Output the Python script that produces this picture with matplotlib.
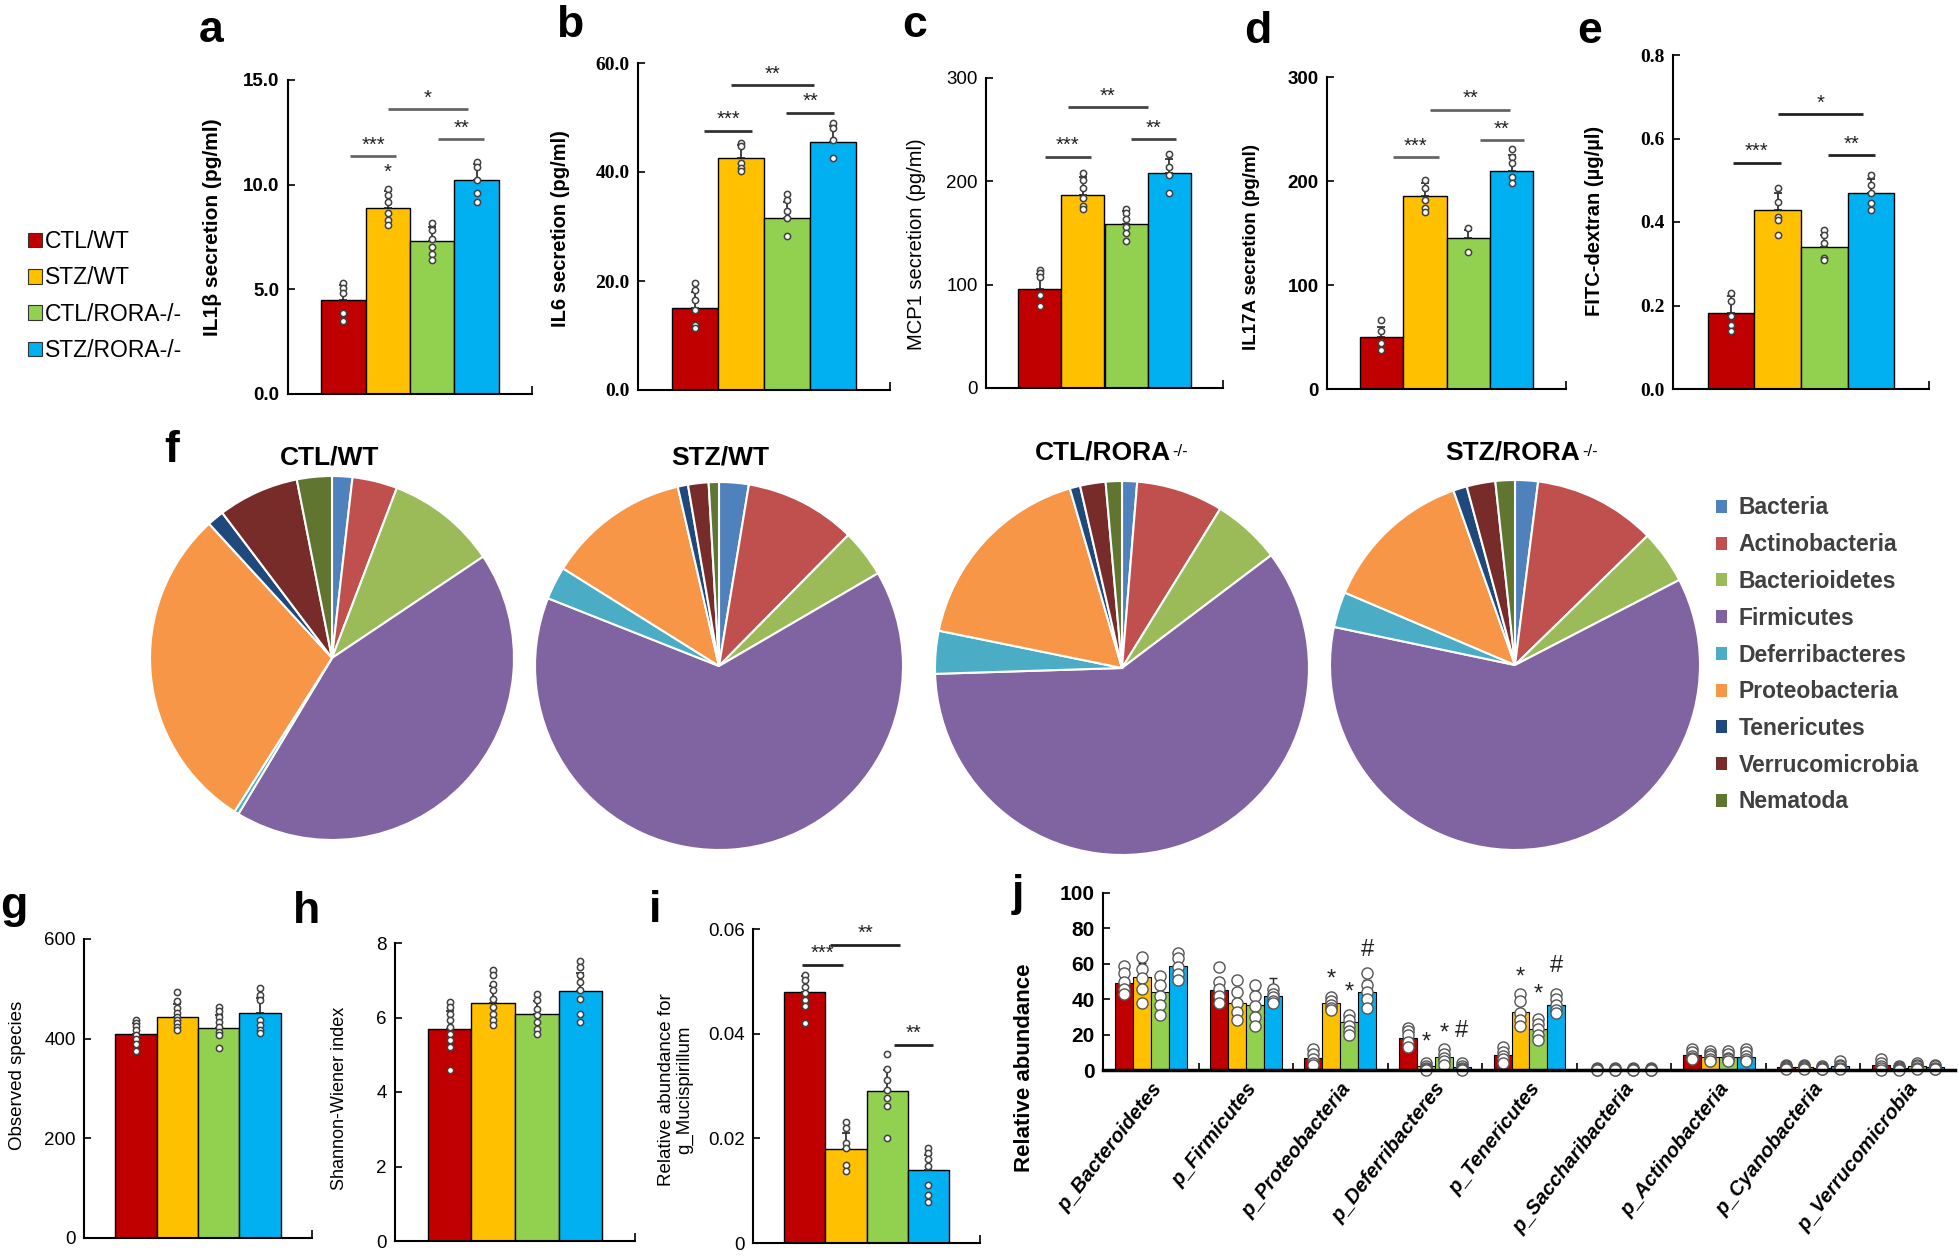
import numpy as np
import matplotlib
matplotlib.use("Agg")
import matplotlib.pyplot as plt
from matplotlib.patches import Patch
from matplotlib.transforms import ScaledTranslation

plt.rcParams['font.family'] = ['Liberation Sans', 'DejaVu Sans']
plt.rcParams['mathtext.fontset'] = 'custom'
plt.rcParams['mathtext.rm'] = 'Liberation Sans'
plt.rcParams['mathtext.bf'] = 'Liberation Sans:bold'

# ---------------- data ----------------
groups = ['CTL/WT', 'STZ/WT', 'CTL/RORA-/-', 'STZ/RORA-/-']
bar_colors = ['#C00000', '#FFC000', '#92D050', '#00B0F0']

il1b_mean = [4.5, 8.9, 7.3, 10.2]
il1b_err = [0.7, 0.8, 0.7, 0.8]
il1b_pts = [[5.29, 5.06, 4.82, 3.86, 3.51], [9.79, 9.51, 9.19, 8.63, 8.31, 8.08],
            [8.19, 7.84, 7.39, 7.04, 6.69, 6.41], [11.07, 10.86, 10.22, 9.59, 9.19]]
il1b_sig = [(0.15, 1.18, 11.37, '***'), (2.14, 3.16, 12.16, '**'), (1.0, 2.8, 13.6, '*')]
il1b_star = [(1, 10.6, '*')]

il6_mean = [15.0, 42.5, 31.5, 45.5]
il6_err = [3.0, 2.5, 3.0, 3.0]
il6_pts = [[19.6, 18.4, 16.5, 14.7, 11.9, 11.3], [45.3, 44.7, 41.6, 40.7, 40.1],
           [36.0, 34.9, 32.8, 31.5, 28.2], [49.0, 48.0, 45.9, 42.6]]
il6_sig = [(0.2, 1.23, 47.6, '***'), (1.99, 3.02, 50.9, '**'), (0.78, 2.6, 56.0, '**')]

mcp1_mean = [96, 187, 159, 208]
mcp1_err = [14, 17, 12, 14]
mcp1_pts = [[114, 111, 107, 90, 79], [208, 201, 194, 184, 176, 173],
            [173, 169, 164, 156, 150, 142], [226, 214, 206, 189]]
mcp1_sig = [(0.12, 1.18, 224, '***'), (2.12, 3.15, 241, '**'), (0.65, 2.5, 272, '**')]

il17_mean = [50, 186, 145, 210]
il17_err = [10, 12, 8, 15]
il17_pts = [[66.5, 55.3, 44.1, 37.7], [200.8, 192.8, 181.6, 173.6, 170.4],
            [155.1, 132.1], [231, 223, 217, 204, 198]]
il17_sig = [(0.27, 1.32, 223, '***'), (2.26, 3.29, 239, '**'), (1.13, 2.97, 268.6, '**')]

fitc_mean = [0.182, 0.429, 0.34, 0.469]
fitc_err = [0.04, 0.04, 0.03, 0.035]
fitc_pts = [[0.230, 0.210, 0.174, 0.154, 0.138], [0.481, 0.449, 0.413, 0.405, 0.369],
            [0.381, 0.369, 0.349, 0.313, 0.309], [0.513, 0.489, 0.469, 0.445, 0.429]]
fitc_sig = [(0.04, 1.06, 0.542, '***'), (2.07, 3.09, 0.561, '**'), (1.0, 2.83, 0.659, '*')]

phyla = ['Bacteria', 'Actinobacteria', 'Bacterioidetes', 'Firmicutes', 'Deferribacteres',
         'Proteobacteria', 'Tenericutes', 'Verrucomicrobia', 'Nematoda']
pie_colors = ['#4F81BD', '#C0504D', '#9BBB59', '#8064A2', '#4BACC6', '#F79646',
              '#1F497D', '#772C2A', '#5F7530']
pie_ctl_wt = [1.8, 4.0, 9.8, 43.0, 0.4, 29.2, 1.5, 7.2, 3.1]
pie_stz_wt = [2.6, 9.8, 4.2, 64.4, 2.9, 12.5, 0.9, 1.8, 0.9]
pie_ctl_rora = [1.3, 7.5, 5.9, 59.8, 3.7, 17.3, 0.9, 2.2, 1.4]
pie_stz_rora = [2.0, 10.7, 4.7, 60.9, 3.1, 13.2, 1.2, 2.5, 1.7]
pie_titles = ['CTL/WT', 'STZ/WT', 'CTL/RORA', 'STZ/RORA']
pie_title_sup = ['', '', '-/-', '-/-']

obs_mean = [409, 444, 422, 452]
obs_err = [22, 25, 25, 30]
obs_pts = [[438, 432, 425, 418, 408, 400, 390, 375],
           [493, 475, 461, 451, 444, 438, 431, 424, 418],
           [464, 455, 444, 434, 424, 414, 408, 381],
           [501, 488, 478, 438, 428, 418, 411]]

sh_mean = [5.68, 6.40, 6.10, 6.70]
sh_err = [0.5, 0.45, 0.35, 0.5]
sh_pts = [[6.42, 6.28, 6.10, 5.92, 5.75, 5.57, 5.39, 5.21, 4.58],
          [7.27, 7.13, 6.91, 6.73, 6.51, 6.28, 6.10, 5.92, 5.79],
          [6.64, 6.46, 6.24, 6.06, 5.88, 5.70, 5.57],
          [7.53, 7.35, 7.13, 6.95, 6.73, 6.51, 6.10, 5.88]]

muc_mean = [0.048, 0.018, 0.029, 0.0139]
muc_err = [0.003, 0.003, 0.004, 0.003]
muc_pts = [[0.0513, 0.0503, 0.049, 0.0478, 0.0465, 0.0452, 0.042],
           [0.0232, 0.022, 0.0191, 0.0182, 0.015, 0.0137],
           [0.0362, 0.0332, 0.0312, 0.0293, 0.0277, 0.0261, 0.0201],
           [0.0182, 0.0172, 0.016, 0.0148, 0.011, 0.0092, 0.0078]]
muc_sig = [(-0.06, 0.94, 0.0532, '***'), (0.62, 2.32, 0.057, '**'), (2.16, 3.12, 0.0379, '**')]

j_phyla = ['p_Bacteroidetes', 'p_Firmicutes', 'p_Proteobacteria', 'p_Deferribacteres',
           'p_Tenericutes', 'p_Saccharibacteria', 'p_Actinobacteria', 'p_Cyanobacteria',
           'p_Verrucomicrobia']
j_ctl_wt = [49, 45, 7, 18, 8.5, 0.4, 8.5, 1.5, 3]
j_stz_wt = [52.5, 38, 37.7, 2, 32.5, 0.4, 7.5, 1.5, 1]
j_ctl_rora = [44, 37, 27.4, 7.5, 23, 0.4, 7.5, 1.0, 2]
j_stz_rora = [59, 42, 43.8, 1.5, 36.5, 0.4, 7.5, 2, 1.5]
j_err_ctl_wt = [6, 7, 3, 4, 3, 0.3, 2, 1, 2]
j_err_stz_wt = [8, 8, 3, 1, 6, 0.3, 2, 1, 0.5]
j_err_ctl_rora = [8, 8, 4, 3, 4, 0.3, 2, 0.5, 1]
j_err_stz_rora = [5, 10, 7, 1, 3, 0.3, 2, 1.5, 0.7]
j_pts_ctl_wt = [[59, 55, 50, 46, 43], [58, 50, 46, 42, 38], [12, 9, 6, 4, 3], [24, 22, 20, 16, 13],
                [13, 10, 8, 6, 4], [1, 0.5, 0.3, 0.1, 0], [12, 10, 8, 7, 6], [3, 2, 1.5, 1, 0.5],
                [6, 4, 2, 1, 0]]
j_pts_stz_wt = [[64, 57, 52, 46, 38], [51, 44, 38, 33, 28], [41, 39, 37, 35, 34], [4, 2, 1, 0.5, 0],
                [43, 39, 32, 28, 25], [1, 0.5, 0.3, 0.1, 0], [11, 9, 8, 6, 5], [3, 2, 1.5, 1, 0.5],
                [2, 1.5, 1, 0.5, 0.2]]
j_pts_ctl_rora = [[53, 48, 42, 37, 31], [48, 42, 36, 30, 25], [31, 28, 25, 22, 20], [12, 9, 7, 5, 3],
                  [29, 26, 23, 20, 17], [1, 0.5, 0.3, 0.1, 0], [11, 9, 7, 6, 5], [2, 1.5, 1, 0.5, 0.3],
                  [4, 3, 2, 1, 0.5]]
j_pts_stz_rora = [[66, 63, 58, 54, 51], [46, 43, 41, 39, 38], [55, 48, 44, 40, 35], [4, 2, 1, 0.5, 0],
                  [43, 40, 37, 34, 32], [1, 0.5, 0.3, 0.1, 0], [12, 10, 8, 6, 5], [5, 3, 2, 1, 0.5],
                  [3, 2, 1, 0.5, 0.3]]
j_marks = [(2, 1, 51, '*'), (2, 2, 44, '*'), (2, 3, 68, '#'),
           (3, 1, 15.5, '*'), (3, 2, 20.8, '*'), (3, 3, 22, '#'),
           (4, 1, 52.5, '*'), (4, 2, 42.5, '*'), (4, 3, 59, '#')]

# ---------------- layout ----------------
W, H = 1959, 1256
fig = plt.figure(figsize=(W / 100, H / 100), dpi=100)


def px_axes(x0, y0, x1, y1):
    return fig.add_axes([x0 / W, 1 - y1 / H, (x1 - x0) / W, (y1 - y0) / H])


def ftext(x, y, s, **kw):
    return fig.text(x / W, 1 - y / H, s, **kw)


SERIF_B = dict(family=['Liberation Serif', 'DejaVu Serif'], weight='bold', size=14)
SANS_B = dict(family=['Liberation Sans', 'DejaVu Sans'], weight='bold', size=13.5)
SANS = dict(family=['Liberation Sans', 'DejaVu Sans'], weight='normal', size=13.5)


def bar_panel(ax, means, errs, pts, ylim, ticks, ticklabels, tickfont,
              sigs=(), stars=(), ms=4.5, sigcolor='#666666'):
    x = np.arange(len(means))
    ax.bar(x, means, width=1.0, color=bar_colors, edgecolor='black', linewidth=1.0, zorder=2)
    ax.errorbar(x, means, yerr=[np.zeros(len(errs)), errs], fmt='none', ecolor='#222222',
                elinewidth=1.2, capsize=3, capthick=1.2, zorder=3)
    for i, p in enumerate(pts):
        ax.plot(np.full(len(p), x[i]), p, 'o', ms=ms, mfc='white', mec='#404040', mew=1.1,
                zorder=4, clip_on=False)
    ax.set_xlim(-1.25, 4.25)
    ax.set_ylim(*ylim)
    ax.set_yticks(ticks)
    ax.set_yticklabels(ticklabels, fontdict=tickfont)
    ax.set_xticks([4.25])
    ax.set_xticklabels([''])
    ax.tick_params(axis='y', direction='in', length=5, width=1.2, pad=6)
    ax.tick_params(axis='x', direction='in', length=6, width=1.2)
    for s in ['top', 'right']:
        ax.spines[s].set_visible(False)
    for s in ['left', 'bottom']:
        ax.spines[s].set_linewidth(1.5)
    ax.patch.set_alpha(0)
    for x0, x1, y, t in sigs:
        ax.plot([x0, x1], [y, y], color=sigcolor, lw=2, solid_capstyle='butt', clip_on=False)
        ax.annotate(t, xy=((x0 + x1) / 2, y), xytext=(0, 1), textcoords='offset points',
                    ha='center', va='bottom', fontsize=14.5, color='#222222',
                    annotation_clip=False)
    for i, y, t in stars:
        ax.text(i, y, t, ha='center', va='center', fontsize=14.5, color='#222222')


# panel a
ax = px_axes(288, 80, 532, 394)
bar_panel(ax, il1b_mean, il1b_err, il1b_pts, (0, 15), [0, 5, 10, 15],
          ['0.0', '5.0', '10.0', '15.0'], SANS_B, il1b_sig, il1b_star)
ftext(212, 227, 'IL1β secretion (pg/ml)', rotation=90, ha='center', va='center',
      fontsize=15, weight='bold')

# panel b
ax = px_axes(638, 63, 890, 390)
bar_panel(ax, il6_mean, il6_err, il6_pts, (0, 60), [0, 20, 40, 60],
          ['0.0', '20.0', '40.0', '60.0'], SERIF_B, il6_sig, sigcolor='#333333')
ftext(560, 229, 'IL6 secretion (pg/ml)', rotation=90, ha='center', va='center',
      fontsize=14.5, weight='bold')

# panel c
ax = px_axes(986, 78, 1223, 388)
bar_panel(ax, mcp1_mean, mcp1_err, mcp1_pts, (0, 300), [0, 100, 200, 300],
          ['0', '100', '200', '300'], SANS, mcp1_sig, sigcolor='#444444')
ftext(916, 244, 'MCP1 secretion (pg/ml)', rotation=90, ha='center', va='center', fontsize=14.5)

# panel d
ax = px_axes(1327, 77, 1566, 389)
bar_panel(ax, il17_mean, il17_err, il17_pts, (0, 300), [0, 100, 200, 300],
          ['0', '100', '200', '300'], SANS_B, il17_sig)
ftext(1251, 247, 'IL17A secretion (pg/ml)', rotation=90, ha='center', va='center',
      fontsize=13.5, weight='bold')

# panel e
ax = px_axes(1673, 55, 1929, 389)
bar_panel(ax, fitc_mean, fitc_err, fitc_pts, (0, 0.8), [0, 0.2, 0.4, 0.6, 0.8],
          ['0.0', '0.2', '0.4', '0.6', '0.8'], SERIF_B, fitc_sig, sigcolor='#222222')
ftext(1595, 221, 'FITC-dextran (µg/µl)', rotation=90, ha='center', va='center',
      fontsize=14.5, weight='bold')

# legend for a-e
fig.legend(handles=[Patch(facecolor=c, edgecolor='#333333', lw=0.8) for c in bar_colors],
           labels=groups, loc='center left', bbox_to_anchor=(28 / W, 1 - 296 / H),
           frameon=False, fontsize=16.5, handlelength=0.6, handleheight=0.6,
           handletextpad=0.15, labelspacing=0.58, borderpad=0, borderaxespad=0)

# pies
pie_data = [pie_ctl_wt, pie_stz_wt, pie_ctl_rora, pie_stz_rora]
pie_boxes = [(150, 476, 514, 840), (535, 482, 903, 850), (935, 481, 1309, 855),
             (1330, 480, 1700, 850)]
pie_title_pos = [(330, 457), (720, 457), (1113, 452), (1523, 452)]
for vals, box, tpos, title, sup in zip(pie_data, pie_boxes, pie_title_pos, pie_titles,
                                       pie_title_sup):
    ax = px_axes(*box)
    ax.pie(vals, colors=pie_colors, startangle=90, counterclock=False,
           wedgeprops=dict(edgecolor='white', linewidth=1.5))
    ax.set_xlim(-1, 1)
    ax.set_ylim(-1, 1)
    ax.set_aspect('equal')
    ax.axis('off')
    if sup:
        t = ftext(tpos[0] - 10, tpos[1], title, ha='center', va='center', fontsize=19,
                  weight='bold')
        ax.annotate(sup, xy=(1, 1), xycoords=t, xytext=(1, -3), textcoords='offset points',
                    ha='left', va='top', fontsize=12, annotation_clip=False)
    else:
        ftext(tpos[0], tpos[1], title, ha='center', va='center', fontsize=19, weight='bold')

fig.legend(handles=[Patch(facecolor=c, edgecolor='none') for c in pie_colors], labels=phyla,
           loc='center left', bbox_to_anchor=(1716 / W, 1 - 655 / H), frameon=False,
           prop=dict(size=16.5, weight='bold'), labelcolor='#404040', handlelength=0.5,
           handleheight=0.5, handletextpad=0.5, labelspacing=0.6, borderpad=0,
           borderaxespad=0)

# panel g
ax = px_axes(84, 939, 312, 1238)
bar_panel(ax, obs_mean, obs_err, obs_pts, (0, 600), [0, 200, 400, 600],
          ['0', '200', '400', '600'], SANS)
ftext(18, 1075, 'Observed species', rotation=90, ha='center', va='center', fontsize=13.5)

# panel h
ax = px_axes(395, 943, 635, 1241)
bar_panel(ax, sh_mean, sh_err, sh_pts, (0, 8), [0, 2, 4, 6, 8],
          ['0', '2', '4', '6', '8'], SANS)
ftext(339, 1098, 'Shannon-Wiener index', rotation=90, ha='center', va='center', fontsize=13)

# panel i
ax = px_axes(753, 929, 980, 1243)
bar_panel(ax, muc_mean, muc_err, muc_pts, (0, 0.06), [0, 0.02, 0.04, 0.06],
          ['0', '0.02', '0.04', '0.06'], SANS, muc_sig, sigcolor='#222222')
ftext(676, 1090, 'Relative abundance for\ng_Mucispirillum', rotation=90, ha='center',
      va='center', fontsize=13.5, linespacing=1.1)

# panel j
ax = px_axes(1103, 893, 1955, 1070)
bw = 0.19
jx = np.arange(len(j_phyla))
j_means = [j_ctl_wt, j_stz_wt, j_ctl_rora, j_stz_rora]
j_errs = [j_err_ctl_wt, j_err_stz_wt, j_err_ctl_rora, j_err_stz_rora]
j_pts = [j_pts_ctl_wt, j_pts_stz_wt, j_pts_ctl_rora, j_pts_stz_rora]
for k in range(4):
    xs = jx + (k - 1.5) * bw
    ax.bar(xs, j_means[k], width=bw, color=bar_colors[k], edgecolor='black', linewidth=0.8,
           zorder=2)
    ax.errorbar(xs, j_means[k], yerr=[np.zeros(len(xs)), j_errs[k]], fmt='none',
                ecolor='#222222', elinewidth=1.0, capsize=3, zorder=3)
    for xi, p in zip(xs, j_pts[k]):
        ax.plot(np.full(len(p), xi), p, 'o', ms=8, mfc='white', mec='#555555', mew=1.0,
                zorder=4, clip_on=False)
for g, k, y, t in j_marks:
    ax.text(jx[g] + (k - 1.5) * bw, y, t, ha='center', va='center', fontsize=17,
            color='#222222', zorder=5)
ax.set_xlim(-0.51, 8.5)
ax.set_ylim(0, 100)
ax.set_yticks([0, 20, 40, 60, 80, 100])
ax.set_yticklabels(['0', '20', '40', '60', '80', '100'], fontdict=dict(size=15, weight='bold'))
ax.set_xticks(jx)
ax.set_xticklabels(j_phyla, rotation=52, ha='right', va='center', rotation_mode='anchor',
                   fontdict=dict(size=14.5, weight='bold', style='italic'))
ax.set_xticks(np.arange(len(j_phyla) - 1) + 0.5, minor=True)
ax.tick_params(axis='x', which='major', length=0, pad=11)
ax.tick_params(axis='x', which='minor', direction='in', length=5, width=1.2)
ax.tick_params(axis='y', direction='in', length=5, width=1.2, pad=6)
for lab in ax.get_xticklabels():
    lab.set_transform(lab.get_transform() + ScaledTranslation(0.07, 0, fig.dpi_scale_trans))
for s in ['top', 'right']:
    ax.spines[s].set_visible(False)
ax.spines['left'].set_linewidth(1.5)
ax.spines['bottom'].set_linewidth(2.5)
ax.spines['bottom'].set_zorder(6)
ax.patch.set_alpha(0)
ftext(1024, 1068, 'Relative abundance', rotation=90, ha='center', va='center',
      fontsize=16, weight='bold')

# panel letters
letters = [('a', 211, 42), ('b', 570, 37), ('c', 915, 37), ('d', 1258, 43), ('e', 1590, 43),
           ('f', 172, 462), ('g', 14, 918), ('h', 307, 923), ('i', 655, 922), ('j', 1018, 906)]
for s, x, y in letters:
    ftext(x, y, s, ha='center', va='baseline', fontsize=32, weight='bold')

fig.savefig('out.png', dpi=100)
